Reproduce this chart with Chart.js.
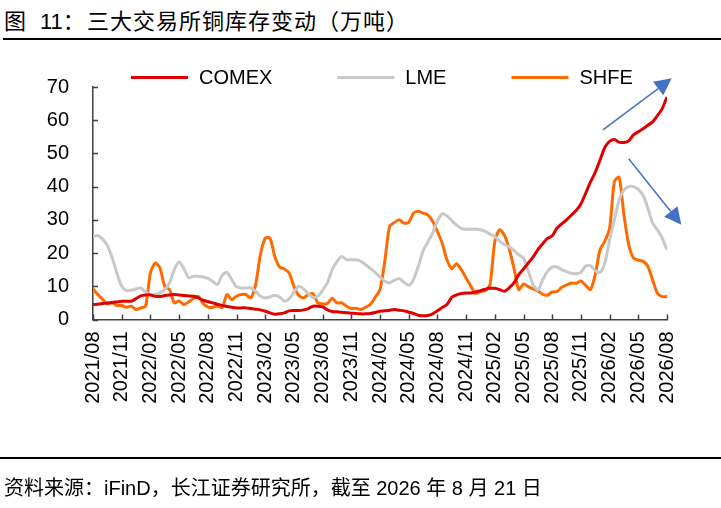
<!DOCTYPE html>
<html>
<head>
<meta charset="utf-8">
<script src="https://cdn.jsdelivr.net/npm/chart.js@4"></script>
<style>
  body { margin: 0; background: #fff; font-family: "Liberation Sans", "Noto Sans CJK SC", sans-serif; }
  #wrap { position: relative; width: 721px; height: 508px; overflow: hidden; }
  #title { position: absolute; left: 0; top: 9px; width: 721px; height: 28px; font-size: 22px; line-height: 26px; white-space: nowrap; color: #000; }
  #title span { position: absolute; top: 0; }
  #rule1 { position: absolute; left: 3px; right: 0; top: 38px; height: 2px; background: #000; }
  #rule2 { position: absolute; left: 0; right: 0; top: 457px; height: 2px; background: #000; }
  #source { position: absolute; left: 4px; top: 476px; font-size: 20px; line-height: 24px; white-space: nowrap; color: #000; }
  canvas { position: absolute; left: 0; top: 0; }
</style>
</head>
<body>
<div id="wrap">
  <div id="title"><span style="left:4px">图</span><span style="left:40px">11：</span><span style="left:87px;letter-spacing:1px">三大交易所铜库存变动（万吨）</span></div>
  <div id="rule1"></div>
  <canvas id="myChart" width="721" height="508"></canvas>
  <div id="rule2"></div>
  <div id="source">资料来源：iFinD，长江证券研究所，截至 2026 年 8 月 21 日</div>
</div>
<script>
// half-month samples starting 2021/08, unit: 万吨
const tickLabels = [
  "2021/08", "2021/11", "2022/02", "2022/05", "2022/08", "2022/11", "2023/02",
  "2023/05", "2023/08", "2023/11", "2024/02", "2024/05", "2024/08", "2024/11",
  "2025/02", "2025/05", "2025/08", "2025/11", "2026/02", "2026/05", "2026/08",
];

const comex = [
  4.5, 4.6, 4.8, 5.0, 5.1, 5.3, 5.5, 5.5, 5.5, 6.3,
  7.1, 7.4, 7.4, 7.0, 6.9, 7.2, 7.4, 7.5, 7.4, 7.2,
  7.1, 7.0, 6.5, 5.8, 5.4, 5.0, 4.6, 4.2, 3.9, 3.7,
  3.5, 3.5, 3.5, 3.3, 3.1, 2.9, 2.5, 2.0, 1.6, 1.7,
  2.0, 2.6, 2.7, 2.7, 2.9, 3.3, 4.0, 4.0, 3.8, 2.9,
  2.4, 2.3, 2.2, 2.0, 1.9, 1.8, 1.7, 1.7, 1.8, 2.1,
  2.5, 2.6, 2.8, 3.0, 2.8, 2.6, 2.2, 1.8, 1.3, 1.1,
  1.2, 1.7, 2.6, 3.6, 4.5, 6.7, 7.4, 7.8, 8.0, 8.0,
  8.3, 8.7, 9.1, 9.4, 9.4, 9.0, 8.5, 9.5, 11.0, 13.5,
  15.2, 17.0, 18.8, 21.0, 22.8, 24.4, 25.2, 27.5, 28.8, 30.0,
  31.4, 32.8, 34.8, 38.0, 41.4, 44.3, 48.0, 51.8, 53.6, 54.2,
  53.4, 53.3, 53.8, 55.6, 56.5, 57.4, 58.5, 59.5, 61.4, 63.5,
  67.0,
];

const lme = [
  25.0, 25.3, 24.2, 22.3, 18.6, 14.0, 10.0, 8.7, 8.8, 9.2,
  9.5, 8.3, 7.5, 7.5, 8.0, 9.0, 11.0, 15.0, 17.4, 15.3,
  12.6, 13.0, 13.0, 12.8, 12.4, 11.5, 10.5, 13.3, 14.2, 12.0,
  9.8, 9.5, 9.5, 9.5, 8.5, 7.0, 6.5, 6.8, 7.3, 6.8,
  5.5, 6.2, 8.2, 10.0, 9.3, 7.8, 6.6, 7.0, 8.8, 11.0,
  15.0, 17.4, 19.0, 18.0, 18.0, 18.0, 17.5, 16.5, 15.3, 14.2,
  12.8, 11.5, 11.1, 11.8, 12.3, 11.2, 10.3, 12.0, 16.0, 20.6,
  23.3, 26.0, 29.6, 31.8, 31.2, 29.8, 28.4, 27.4, 27.2, 27.2,
  27.2, 27.0, 26.5, 25.7, 25.0, 23.6, 22.6, 21.8, 20.8, 19.5,
  18.5, 14.5, 10.5, 8.9, 11.9, 14.5, 15.8, 15.8, 15.0, 14.4,
  13.9, 13.8, 14.2, 16.1, 16.2, 14.7, 14.2, 17.0, 24.0, 30.0,
  36.0, 39.0, 40.0, 40.0, 39.2, 37.4, 33.5, 29.0, 27.0, 24.5,
  21.0,
];

const shfe = [
  9.2, 7.5, 6.1, 4.7, 5.0, 4.2, 4.2, 3.7, 4.0, 3.0,
  3.5, 4.0, 14.0, 17.0, 15.5, 10.0, 9.0, 5.0, 5.6, 4.5,
  5.3, 6.3, 7.0, 4.8, 3.8, 3.6, 4.1, 3.6, 7.5, 6.0,
  7.0, 7.5, 7.5, 6.5, 10.5, 19.5, 24.5, 24.5, 19.0, 15.8,
  15.2, 14.0, 10.0, 7.3, 6.5, 7.5, 7.8, 5.0, 4.7, 4.8,
  6.4, 5.0, 5.0, 4.0, 3.3, 3.4, 3.0, 3.7, 4.6, 6.7,
  9.0, 17.5, 28.0, 29.2, 30.0, 29.0, 29.2, 32.0, 32.6, 32.0,
  31.5, 29.6, 26.5, 23.0, 18.0, 15.3, 16.8, 15.0, 12.5, 10.0,
  7.8, 8.4, 8.7, 10.5, 23.5, 27.0, 25.4, 21.3, 15.5, 9.0,
  10.7, 9.9, 9.2, 8.6, 7.6, 7.3, 8.3, 8.4, 9.7, 10.4,
  11.0, 10.9, 11.6, 10.3, 9.0, 13.5, 21.0, 23.6, 27.4, 41.5,
  42.8, 31.5, 22.5, 18.5, 17.9, 17.5, 16.0, 11.9, 7.9, 6.9,
  6.9,
];

// trend arrows, in axis units [x0, y0, x1, y1]
const arrows = [
  [53.3, 57.1, 60.5, 72.6],
  [56.0, 48.4, 61.5, 28.5],
];

const toPoints = (arr) => arr.map((v, i) => ({ x: i * 0.5, y: v }));
const FONT = "'Liberation Sans', Arial, sans-serif";

const innerTicks = {
  id: "innerTicks",
  beforeDatasetsDraw(chart) {
    const { ctx, chartArea, scales } = chart;
    ctx.save();
    ctx.strokeStyle = "#404040";
    ctx.lineWidth = 1.5;
    ctx.beginPath();
    scales.x.ticks.forEach((t) => {
      const px = Math.round(scales.x.getPixelForValue(t.value)) + 0.5;
      ctx.moveTo(px, chartArea.bottom);
      ctx.lineTo(px, chartArea.bottom - 5);
    });
    scales.y.ticks.forEach((t) => {
      const py = Math.round(scales.y.getPixelForValue(t.value)) + 0.5;
      ctx.moveTo(chartArea.left, py);
      ctx.lineTo(chartArea.left + 5, py);
    });
    ctx.stroke();
    ctx.restore();
  },
};

const lineLegend = {
  id: "lineLegend",
  afterDraw(chart) {
    const { ctx } = chart;
    let x = 131;
    const y = 77.5;
    ctx.save();
    ctx.font = "20px " + FONT;
    ctx.textBaseline = "middle";
    chart.data.datasets.forEach((ds) => {
      ctx.strokeStyle = ds.borderColor;
      ctx.lineWidth = 3;
      ctx.beginPath();
      ctx.moveTo(x, y);
      ctx.lineTo(x + 57, y);
      ctx.stroke();
      ctx.fillStyle = "#000";
      ctx.fillText(ds.label, x + 68, y + 1);
      x += 68 + ctx.measureText(ds.label).width + 65;
    });
    ctx.restore();
  },
};

const trendArrows = {
  id: "trendArrows",
  afterDraw(chart) {
    const { ctx, scales } = chart;
    ctx.save();
    ctx.strokeStyle = "#4472C4";
    ctx.fillStyle = "#4472C4";
    ctx.lineWidth = 1.5;
    arrows.forEach(([a, b, c, d]) => {
      const x0 = scales.x.getPixelForValue(a);
      const y0 = scales.y.getPixelForValue(b);
      const x1 = scales.x.getPixelForValue(c);
      const y1 = scales.y.getPixelForValue(d);
      const ang = Math.atan2(y1 - y0, x1 - x0);
      const len = 17, half = 8.5;
      const bx = x1 - len * Math.cos(ang);
      const by = y1 - len * Math.sin(ang);
      ctx.beginPath();
      ctx.moveTo(x0, y0);
      ctx.lineTo(bx, by);
      ctx.stroke();
      ctx.beginPath();
      ctx.moveTo(x1, y1);
      ctx.lineTo(bx + half * Math.sin(ang), by - half * Math.cos(ang));
      ctx.lineTo(bx - half * Math.sin(ang), by + half * Math.cos(ang));
      ctx.closePath();
      ctx.fill();
    });
    ctx.restore();
  },
};

const ctx1 = document.getElementById("myChart");

new Chart(ctx1, {
  type: "line",
  data: {
    datasets: [
      {
        label: "COMEX",
        data: toPoints(comex),
        borderColor: "#E10000",
        borderWidth: 3,
        pointRadius: 0,
        tension: 0.25,
      },
      {
        label: "LME",
        data: toPoints(lme),
        borderColor: "#C8C8C8",
        borderWidth: 3,
        pointRadius: 0,
        tension: 0.25,
      },
      {
        label: "SHFE",
        data: toPoints(shfe),
        borderColor: "#FF6A00",
        borderWidth: 3,
        pointRadius: 0,
        tension: 0.25,
      },
    ],
  },
  options: {
    responsive: false,
    animation: false,
    layout: {
      padding: { left: 43, right: 54, top: 87, bottom: 88.5 },
    },
    plugins: {
      legend: { display: false },
      tooltip: { enabled: false },
    },
    scales: {
      x: {
        type: "linear",
        min: 0,
        max: 60,
        afterFit: (s) => { s.height = 100; },
        grid: { drawOnChartArea: false, drawTicks: false },
        border: { color: "#404040", width: 1.5 },
        ticks: {
          stepSize: 3,
          autoSkip: false,
          maxRotation: 90,
          minRotation: 90,
          padding: 12,
          color: "#000",
          font: { size: 20, family: FONT },
          callback: (v) => tickLabels[v / 3],
        },
      },
      y: {
        min: 0,
        max: 70,
        afterFit: (s) => { s.width = 50; },
        grid: { drawOnChartArea: false, drawTicks: false },
        border: { color: "#404040", width: 1.5 },
        ticks: {
          stepSize: 10,
          padding: 24,
          color: "#000",
          font: { size: 20, family: FONT },
        },
      },
    },
  },
  plugins: [innerTicks, lineLegend, trendArrows],
});
</script>
</body>
</html>
